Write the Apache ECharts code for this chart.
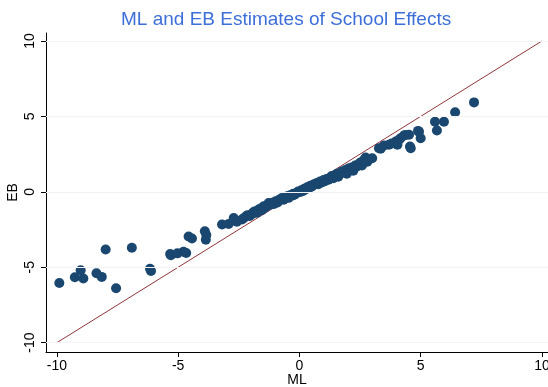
<!DOCTYPE html>
<html>
<head>
<meta charset="utf-8">
<script src="https://cdn.jsdelivr.net/npm/echarts@6/dist/echarts.min.js"></script>
<style>html,body{margin:0;padding:0;background:#fff}#c{width:548px;height:387px}</style>
</head>
<body>
<div id="c"></div>
<script>
// ML (x) and EB (y) estimates
const mlLeft = [-9.9,-9.26,-9.02,-8.91,-8.37,-8.15,-7.99,-7.56,-6.91,-6.16,-6.12,-5.33,-5.30,-5.03,-4.78,-4.67,-4.57,-4.43,-3.9,-3.84,-3.86,-3.19,-2.92,-2.71,-2.58,-2.37];
const ebLeft = [-6.05,-5.66,-5.2,-5.75,-5.4,-5.64,-3.82,-6.39,-3.71,-5.1,-5.25,-4.12,-4.2,-4.08,-3.97,-4.06,-2.96,-3.09,-2.61,-2.87,-3.18,-2.17,-2.13,-1.73,-1.99,-1.84];
const mlMid = [-2.3,-2.2,-2.14,-2.05,-1.95,-1.9,-1.82,-1.75,-1.68,-1.6,-1.55,-1.47,-1.42,-1.35,-1.27,-1.2,-1.12,-1.05,-0.98,-0.9,-0.85,-0.78,-0.72,-0.65,-0.58,-0.5,-0.45,-0.38,-0.3,-0.25,-0.18,-0.1,-0.05,0.02,0.08,0.15,0.2,0.27,0.32,0.4,0.45,0.52,0.58,0.65,0.72,0.78,0.85,0.92,1.0,1.05,1.12,1.2,1.28,1.33,1.4,1.48,1.55,1.6,1.68,1.75,1.83,1.9,1.95,2.02,2.1,2.15,2.22,2.3,2.38,2.45,2.52,2.58,2.66,2.73,2.8];
const ebMid = [-1.75,-1.62,-1.55,-1.6,-1.46,-1.35,-1.28,-1.38,-1.18,-1.1,-1.22,-0.96,-1.05,-0.92,-0.74,-0.85,-0.72,-0.8,-0.62,-0.7,-0.55,-0.5,-0.41,-0.52,-0.36,-0.3,-0.4,-0.22,-0.25,-0.12,-0.18,-0.05,0.02,-0.02,0.1,0.05,0.2,0.18,0.3,0.28,0.4,0.35,0.48,0.52,0.58,0.5,0.68,0.62,0.78,0.7,0.85,0.8,0.95,1.05,0.9,1.1,1.2,1.0,1.25,1.35,1.3,1.45,1.2,1.55,1.48,1.62,1.4,1.75,1.68,1.85,1.95,1.75,2.1,2.28,2.0];
const mlRight = [3.0,3.28,3.35,3.49,3.69,3.8,3.97,4.04,4.1,4.17,4.31,4.38,4.52,4.56,4.59,4.89,4.93,5.0,5.59,5.67,5.96,6.42,7.2];
const ebRight = [2.23,2.89,2.85,3.07,3.12,3.2,3.33,3.12,3.44,3.55,3.73,3.77,3.78,3.0,2.89,4.04,3.99,3.55,4.65,4.06,4.65,5.27,5.93];
const tickValues = [-10,-5,0,5,10];
const lineEnds = [[-10,-10],[10,10]];

const ml = mlLeft.concat(mlMid, mlRight);
const eb = ebLeft.concat(ebMid, ebRight);
const pts = ml.map((v,i)=>[v, eb[i]]);

const chart = echarts.init(document.getElementById('c'));
const font = 'Liberation Sans, Arial, sans-serif';
chart.setOption({
  animation:false,
  backgroundColor:'#ffffff',
  title:{text:'ML and EB Estimates of School Effects', left:116, top:5,
    textStyle:{color:'#3e6fd8', fontSize:19, fontWeight:'normal', fontFamily:font}},
  grid:{left:46, right:0, top:33, bottom:35, outerBoundsMode:'none', containLabel:false},
  xAxis:{type:'value', min:-10.45, max:10.25,
    name:'ML', nameLocation:'middle', nameGap:21, nameMoveOverlap:false,
    nameTextStyle:{color:'#000', fontSize:14, fontFamily:font},
    axisLine:{onZero:false, lineStyle:{color:'#000', width:1}},
    axisTick:{show:true, length:5, customValues:tickValues, lineStyle:{color:'#000'}},
    axisLabel:{customValues:tickValues, color:'#000', fontSize:14, fontFamily:font, margin:7},
    splitLine:{show:false}},
  yAxis:{type:'value', min:-10.62, max:10.53,
    name:'EB', nameLocation:'middle', nameGap:26, nameMoveOverlap:false,
    nameTextStyle:{color:'#000', fontSize:14, fontFamily:font},
    axisLine:{show:true, onZero:false, lineStyle:{color:'#000', width:1}},
    axisTick:{show:true, length:5, customValues:tickValues, lineStyle:{color:'#000'}},
    axisLabel:{customValues:tickValues, rotate:90, color:'#000', fontSize:14, fontFamily:font, margin:9},
    splitLine:{show:false}},
  series:[
    {type:'line', data:lineEnds, symbol:'none', lineStyle:{color:'#90353b', width:1}, z:1,
      markLine:{silent:true, symbol:'none', label:{show:false},
        lineStyle:{color:'#f3f3f3', width:1, type:'solid'},
        data:tickValues.map(v=>({yAxis:v}))}},
    {type:'scatter', data:pts, symbolSize:10, itemStyle:{color:'#1a476f', opacity:1}, z:3}
  ]
});
</script>
</body>
</html>
